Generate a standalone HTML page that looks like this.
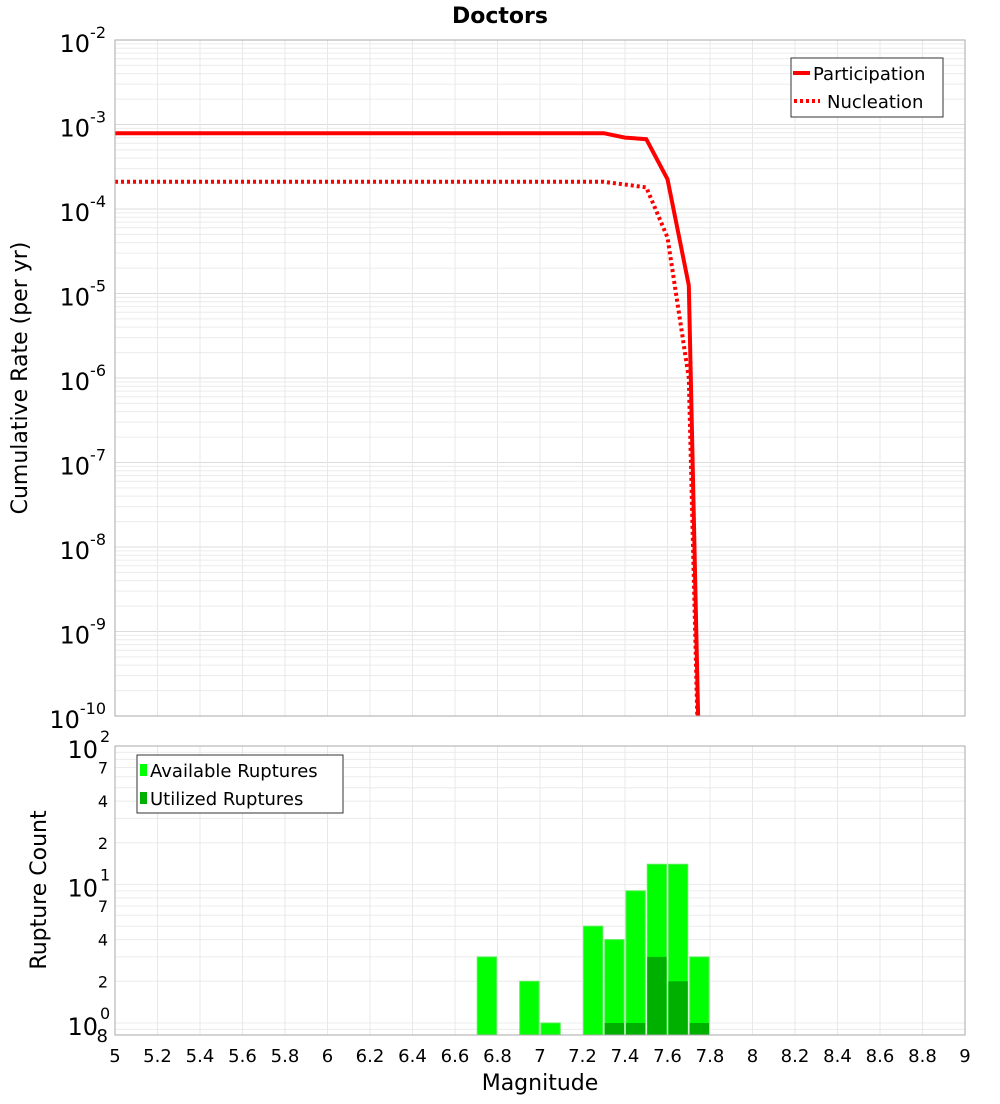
<!DOCTYPE html>
<html><head><meta charset="utf-8"><style>
body{margin:0;background:#fff;font-family:"DejaVu Sans","Liberation Sans",sans-serif;}
svg text{font-family:"DejaVu Sans","Liberation Sans",sans-serif;}
</style></head><body>
<svg id="c" width="1000" height="1100" xmlns="http://www.w3.org/2000/svg">
<text x="500" y="23" text-anchor="middle" font-size="22" font-weight="bold">Doctors</text>
<text transform="translate(27,378) rotate(-90)" text-anchor="middle" font-size="22">Cumulative Rate (per yr)</text>
<text transform="translate(46,890) rotate(-90)" text-anchor="middle" font-size="22">Rupture Count</text>
<text x="540" y="1090" text-anchor="middle" font-size="22">Magnitude</text>
<g id="g"></g>
</svg>
<script>
const xTicks=[5,5.2,5.4,5.6,5.8,6,6.2,6.4,6.6,6.8,7,7.2,7.4,7.6,7.8,8,8.2,8.4,8.6,8.8,9];
const magLine=[5.0,7.3,7.4,7.5,7.6,7.7,7.75];
const participation=[7.9e-4,7.9e-4,7.0e-4,6.7e-4,2.25e-4,1.25e-5,2e-11];
const nucleation=[2.1e-4,2.1e-4,1.95e-4,1.8e-4,4.6e-5,1.0e-6,1e-11];
const barMags=[6.75,6.95,7.05,7.25,7.35,7.45,7.55,7.65,7.75];
const available=[3,2,1,5,4,9,14,14,3];
const utilized=[0,0,0,0,1,1,3,2,1];

const NS='http://www.w3.org/2000/svg';
const g=document.getElementById('g');
function mk(t,a,p){const e=document.createElementNS(NS,t);for(const k in a)e.setAttribute(k,a[k]);(p||g).appendChild(e);return e;}
const X0=115,X1=965;
const xs=m=>X0+(m-5)/(9-5)*(X1-X0);
const T0=40,T1=716;
const ysT=v=>T0+(-2-Math.log10(v))/8*(T1-T0);
const B0=746,B1=1035;
const ysB=v=>1023-Math.log10(v)*138.5;

// grids
for(let d=-10;d<-2;d++)for(let k=1;k<10;k++){const y=ysT(k*Math.pow(10,d));
 const l=mk('line',{x1:X0,x2:X1,y1:y,y2:y,stroke:k==1?'#dcdcdc':'#ececec','stroke-width':1});
 }
for(let d=-1;d<2;d++)for(let k=1;k<10;k++){const v=k*Math.pow(10,d);const y=ysB(v);if(y>B1||y<B0)continue;
 const l=mk('line',{x1:X0,x2:X1,y1:y,y2:y,stroke:'#ececec','stroke-width':1});
 }
xTicks.forEach(t=>{const x=xs(t);
 let l=mk('line',{x1:x,x2:x,y1:T0,y2:T1,stroke:'#e8e8e8'});
 l=mk('line',{x1:x,x2:x,y1:B0,y2:B1,stroke:'#e8e8e8'});
 const tx=mk('text',{x:x,y:1062,'text-anchor':'middle','font-size':18});tx.textContent=String(t);
 });

// top y labels
for(let d=-10;d<=-2;d++){const y=ysT(Math.pow(10,d));
 const t=mk('text',{x:106,y:y+12,'text-anchor':'end','font-size':24});
 
 t.textContent='10';const s=mk('tspan',{dy:-14,'font-size':16},t);s.textContent=String(d);}
// bottom labels
[[2,'10','2'],[1,'10','1'],[0,'10','0']].forEach(([p,b,e])=>{const y=ysB(Math.pow(10,p));
 const t=mk('text',{x:98,y:y+12,'text-anchor':'end','font-size':24});t.textContent=b;
 
 const s=mk('text',{x:100,y:y-4,'font-size':16});s.textContent=e;
 });
[70,40,20,7,4,2].forEach(v=>{const y=ysB(v);const t=mk('text',{x:108,y:y+6,'text-anchor':'end','font-size':16});t.textContent=String(v).charAt(0);
 });
{const t=mk('text',{x:108,y:1042,'text-anchor':'end','font-size':18});t.textContent='8';}

// lines
const clip=mk('clipPath',{id:'cp'});mk('rect',{x:X0,y:T0,width:X1-X0,height:T1-T0},clip);
function path(vals){return magLine.map((m,i)=>(i?'L':'M')+xs(m).toFixed(1)+','+ysT(vals[i]).toFixed(1)).join(' ');}
let p=mk('path',{d:path(participation),fill:'none',stroke:'#ff0000','stroke-width':4,'clip-path':'url(#cp)'});

p=mk('path',{d:path(nucleation),fill:'none',stroke:'#ff0000','stroke-width':4,'stroke-dasharray':'3 3','clip-path':'url(#cp)'});


// bars
const bw=xs(0.1+5)-xs(5);
barMags.forEach((m,i)=>{const x=xs(m)-bw/2+1;
 let r=mk('rect',{x:x,y:ysB(available[i]),width:bw-2,height:B1-ysB(available[i]),fill:'#00ff00',stroke:'#55ee55','stroke-width':1});
 
 if(utilized[i]>0){r=mk('rect',{x:x,y:ysB(utilized[i]),width:bw-2,height:B1-ysB(utilized[i]),fill:'#00b000'});
 }});

// frames
let f=mk('rect',{x:X0,y:T0,width:X1-X0,height:T1-T0,fill:'none',stroke:'#aaa'});
f=mk('rect',{x:X0,y:B0,width:X1-X0,height:B1-B0,fill:'none',stroke:'#aaa'});

// legends
let lg=mk('g',{});
mk('rect',{x:791,y:58,width:152,height:59,fill:'#fff',stroke:'#333'},lg);
mk('line',{x1:793,x2:810,y1:73,y2:73,stroke:'#f00','stroke-width':4},lg);
let t=mk('text',{x:813,y:80,'font-size':18},lg);t.textContent='Participation';
mk('line',{x1:794,x2:820,y1:101,y2:101,stroke:'#f00','stroke-width':4,'stroke-dasharray':'3 3'},lg);
t=mk('text',{x:827,y:108,'font-size':18},lg);t.textContent='Nucleation';
lg=mk('g',{});
mk('rect',{x:137,y:755,width:206,height:58,fill:'#fff',stroke:'#333'},lg);
mk('rect',{x:140,y:764,width:7,height:12,fill:'#00ff00'},lg);
t=mk('text',{x:150,y:777,'font-size':18},lg);t.textContent='Available Ruptures';
mk('rect',{x:140,y:792,width:7,height:12,fill:'#00b000'},lg);
t=mk('text',{x:150,y:805,'font-size':18},lg);t.textContent='Utilized Ruptures';
</script>
</body></html>
